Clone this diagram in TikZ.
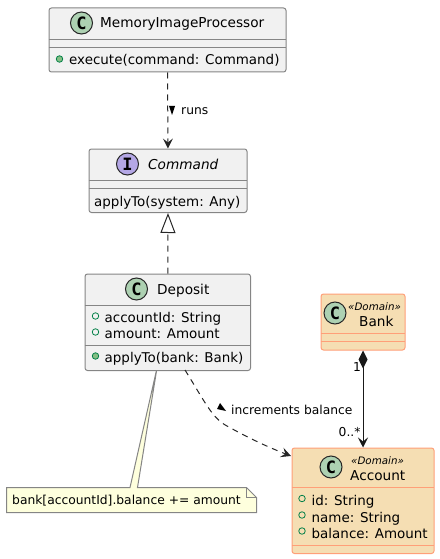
\documentclass[tikz,border=0pt]{standalone}
\usepackage{fontspec}
\setmainfont{DejaVu Sans}
\newfontfamily\glyphfont{DejaVu Sans Mono}
\usetikzlibrary{arrows.meta}
\definecolor{classfill}{HTML}{F1F1F1}
\definecolor{linegray}{HTML}{858585}
\definecolor{domainfill}{HTML}{F5DEB3}
\definecolor{domainline}{HTML}{FF9F78}
\definecolor{notefill}{HTML}{FEFFDD}
\definecolor{circlegreen}{HTML}{ADD1B2}
\definecolor{circlepurple}{HTML}{B4A7E5}
\definecolor{dotgreen}{HTML}{84BE84}
\definecolor{dotline}{HTML}{038048}
\tikzset{
    classbox/.style={draw=linegray, fill=classfill, rounded corners=2.5pt, line width=1pt, anchor=north west, inner sep=0pt},
    domainbox/.style={classbox, draw=domainline, fill=domainfill},
    sepline/.style={draw=linegray, line width=1pt},
    domainsep/.style={draw=domainline, line width=1pt},
    glyph/.style={circle, draw=black!85, line width=1pt, minimum size=22pt, inner sep=0pt, font=\glyphfont\bfseries\fontsize{17}{17}\selectfont},
    title/.style={font=\fontsize{13.65}{15}\selectfont, inner sep=0pt, anchor=base west},
    member/.style={font=\fontsize{13.45}{15}\selectfont, inner sep=0pt, anchor=base west},
    small/.style={font=\fontsize{12.3}{13}\selectfont, inner sep=0pt, anchor=base west},
    stereo/.style={font=\fontsize{10.3}{12}\selectfont\itshape, inner sep=0pt, anchor=base west},
    field/.style={circle, draw=dotline, line width=0.8pt, minimum size=6.5pt, inner sep=0pt},
    method/.style={field, fill=dotgreen},
    dep/.style={dash pattern=on 6pt off 5pt, line width=1pt, draw=black!85},
    openhead/.style={-{Stealth[length=10pt, width=10pt, inset=4pt]}},
}
\begin{document}
\begin{tikzpicture}[x=1pt, y=-1pt]
    \useasboundingbox (0,0) rectangle (439,559);
    % note goes first, the class box covers its tip
    \draw[draw=linegray, fill=notefill, line width=1pt]
        (6.5,487.5) -- (130,487.5) -- (157,368) -- (137.5,487.5) -- (246.5,487.5)
        -- (256.5,497.5) -- (256.5,512.5) -- (6.5,512.5) -- cycle;
    \draw[draw=linegray, line width=1pt] (246.5,487.5) -- (246.5,497.5) -- (256.5,497.5);
    \node[small] (notetext) at (12,504.5) {bank[accountId].balance += amount};
    % classes
    \node[classbox, minimum width=237pt, minimum height=64pt] (processor) at (48.5,7.5) {};
    \draw[sepline] (48.5,39.5) -- (285.5,39.5) (48.5,47.5) -- (285.5,47.5);
    \node[glyph, fill=circlegreen] (processorglyph) at (81.5,23) {C};
    \node[title] (processortitle) at (100,28) {MemoryImageProcessor};
    \node[method] (executedot) at (59.5,59) {};
    \node[member] (executetext) at (69,65) {execute(command: Command)};

    \node[classbox, minimum width=158pt, minimum height=63.5pt] (command) at (88.5,148.5) {};
    \draw[sepline] (88.5,180.5) -- (246.5,180.5) (88.5,188.5) -- (246.5,188.5);
    \node[glyph, fill=circlepurple] (commandglyph) at (127.5,164) {I};
    \node[title, font=\fontsize{13.65}{15}\selectfont\itshape] (commandtitle) at (148,169) {Command};
    \node[member] (applysystem) at (94,206) {applyTo(system: Any)};

    \node[classbox, minimum width=165.5pt, minimum height=96.5pt] (deposit) at (84.5,273.5) {};
    \draw[sepline] (84.5,305.5) -- (250,305.5) (84.5,345.5) -- (250,345.5);
    \node[glyph, fill=circlegreen] (depositglyph) at (136.5,289) {C};
    \node[title] (deposittitle) at (157,294) {Deposit};
    \node[field] (accountiddot) at (95.5,316) {};
    \node[member] (accountidtext) at (104.5,322) {accountId: String};
    \node[field] (amountdot) at (95.5,332) {};
    \node[member] (amounttext) at (104.5,338) {amount: Amount};
    \node[method] (applydot) at (95.5,356) {};
    \node[member] (applybank) at (104.5,362) {applyTo(bank: Bank)};

    \node[domainbox, minimum width=84pt, minimum height=56pt] (bank) at (320.5,293.5) {};
    \draw[domainsep] (320.5,333.5) -- (404.5,333.5) (320.5,341.5) -- (404.5,341.5);
    \node[glyph, fill=circlegreen] (bankglyph) at (335,313) {C};
    \node[stereo] (bankstereo) at (348,310) {«Domain»};
    \node[title] (banktitle) at (359,326) {Bank};

    \node[domainbox, minimum width=142pt, minimum height=105.5pt] (account) at (291.5,447.5) {};
    \draw[domainsep] (291.5,487.5) -- (433.5,487.5) (291.5,545.5) -- (433.5,545.5);
    \node[glyph, fill=circlegreen] (accountglyph) at (331,467) {C};
    \node[stereo] (accountstereo) at (351,464) {«Domain»};
    \node[title] (accounttitle) at (350,480) {Account};
    \node[field] (iddot) at (302,498.5) {};
    \node[member] (idtext) at (311.5,505) {id: String};
    \node[field] (namedot) at (302,515) {};
    \node[member] (nametext) at (311.5,522) {name: String};
    \node[field] (balancedot) at (302,531) {};
    \node[member] (balancetext) at (311.5,538) {balance: Amount};

    % connectors
    \draw[dep, openhead] (processor.south) -- (command.north);
    \fill[black] (169,106) -- (175,106) -- (172,115) -- cycle;
    \node[small] (runslabel) at (181,115) {runs};

    \draw[dep, -{Triangle[open, fill=white, length=20pt, width=15pt]}] (deposit.north) -- (command.south);

    \coordinate (depositout) at (185,370);
    \coordinate (accountin) at (291,456);
    \draw[dep, openhead] (depositout) .. controls (205,402) and (212,418) .. (227,426) .. controls (245,436) and (265,446) .. (accountin);
    \fill[black] (217,409) -- (226,411) -- (220,403) -- cycle;
    \node[small] (incrementslabel) at (231,414.5) {increments balance};

    \draw[line width=1pt, black!90, {Diamond[length=18pt, width=9pt]}-{Stealth[length=10pt, width=10pt, inset=4pt]}] (bank.south) -- (account.north);
    \node[small] (onelabel) at (353,371) {1};
    \node[small] (manylabel) at (338.5,436.5) {0..*};
\end{tikzpicture}
\end{document}
